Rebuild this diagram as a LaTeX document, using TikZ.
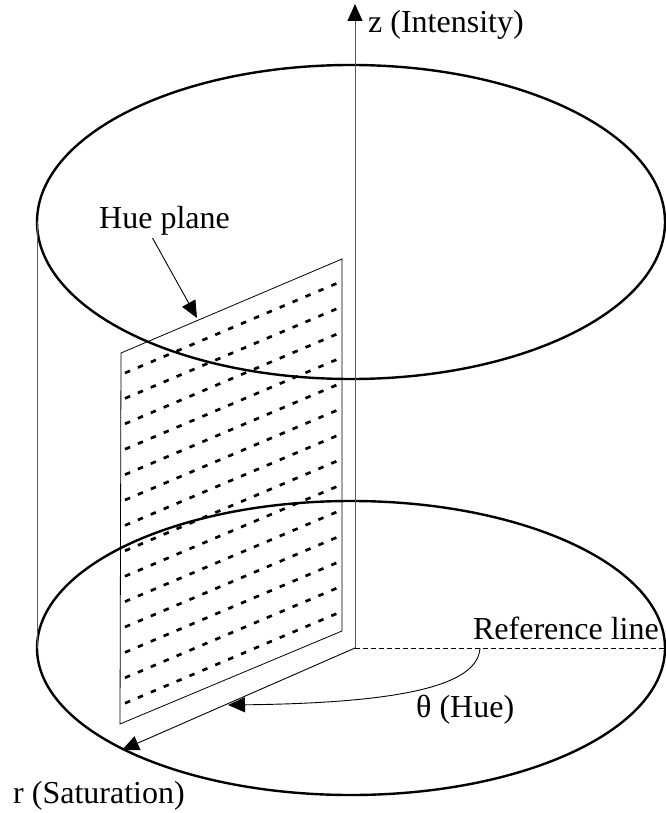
\documentclass[tikz,border=0pt]{standalone}
\usepackage{fontspec}
\setmainfont{Liberation Serif}
\usetikzlibrary{arrows.meta}
\tikzset{
  x=1pt, y=1pt,
  >={Triangle[length=17pt, width=15pt, color=black]},
  rim/.style={line width=2.4pt},
  wall/.style={line width=0.9pt, draw=black!65},
  edge/.style={line width=0.8pt},
  hatch/.style={line width=2.7pt, dash pattern=on 5.5pt off 8.5pt},
  flow/.style={->, line width=0.9pt},
  axis/.style={->, line width=0.9pt, draw=black!65},
  refl/.style={line width=0.9pt, dash pattern=on 5pt off 3pt},
  lbl/.style={font=\fontsize{32}{38}\selectfont, inner sep=0pt},
}

\begin{document}
\begin{tikzpicture}
  \useasboundingbox (0,0) rectangle (665,-813);
  % cylinder
  \coordinate (top) at (351,-222);
  \coordinate (bot) at (351,-648);
  \coordinate (o) at (355,-648);
  \draw[rim] (top) ellipse [x radius=314pt, y radius=157pt];
  \draw[rim] (bot) ellipse [x radius=314pt, y radius=147pt];
  \draw[wall] (37,-222) -- (37,-648);

  % hue plane
  \coordinate (p1) at (121,-353);
  \coordinate (p2) at (342,-259);
  \coordinate (p3) at (342,-631);
  \coordinate (p4) at (120,-724);
  \draw[edge] (p1) -- (p2) -- (p3) -- (p4) -- cycle;
  \foreach \k in {0,...,13}{ \draw[hatch] (125,{-373-25.4*\k}) -- ++(215,91); }

  % axes
  \coordinate (ztip) at (355,-4);
  \draw[axis] (o) -- (ztip);
  \node[lbl, anchor=base west] (zlbl) at (368,-33) {z (Intensity)};

  \coordinate (ref) at (665,-648);
  \draw[refl] (o) -- (ref);
  \node[lbl, anchor=base east] (reflbl) at (659,-639) {Reference line};

  \coordinate (rtip) at (122,-750);
  \draw[flow] (o) -- (rtip);
  \node[lbl, anchor=base west] (rlbl) at (13,-803) {r (Saturation)};

  % hue angle
  \coordinate (t0) at (480,-648);
  \coordinate (t1) at (228,-705);
  \draw[flow] (t0) .. controls (478,-686) and (400,-703) .. (t1);
  \node[lbl, anchor=base west] (tlbl) at (416,-717) {θ (Hue)};

  % label of the plane
  \node[lbl, anchor=base west] (hlbl) at (99,-228) {Hue plane};
  \coordinate (hp) at (197,-318);
  \draw[flow] ([xshift=-12pt, yshift=-3pt]hlbl.south) -- (hp);
\end{tikzpicture}
\end{document}
